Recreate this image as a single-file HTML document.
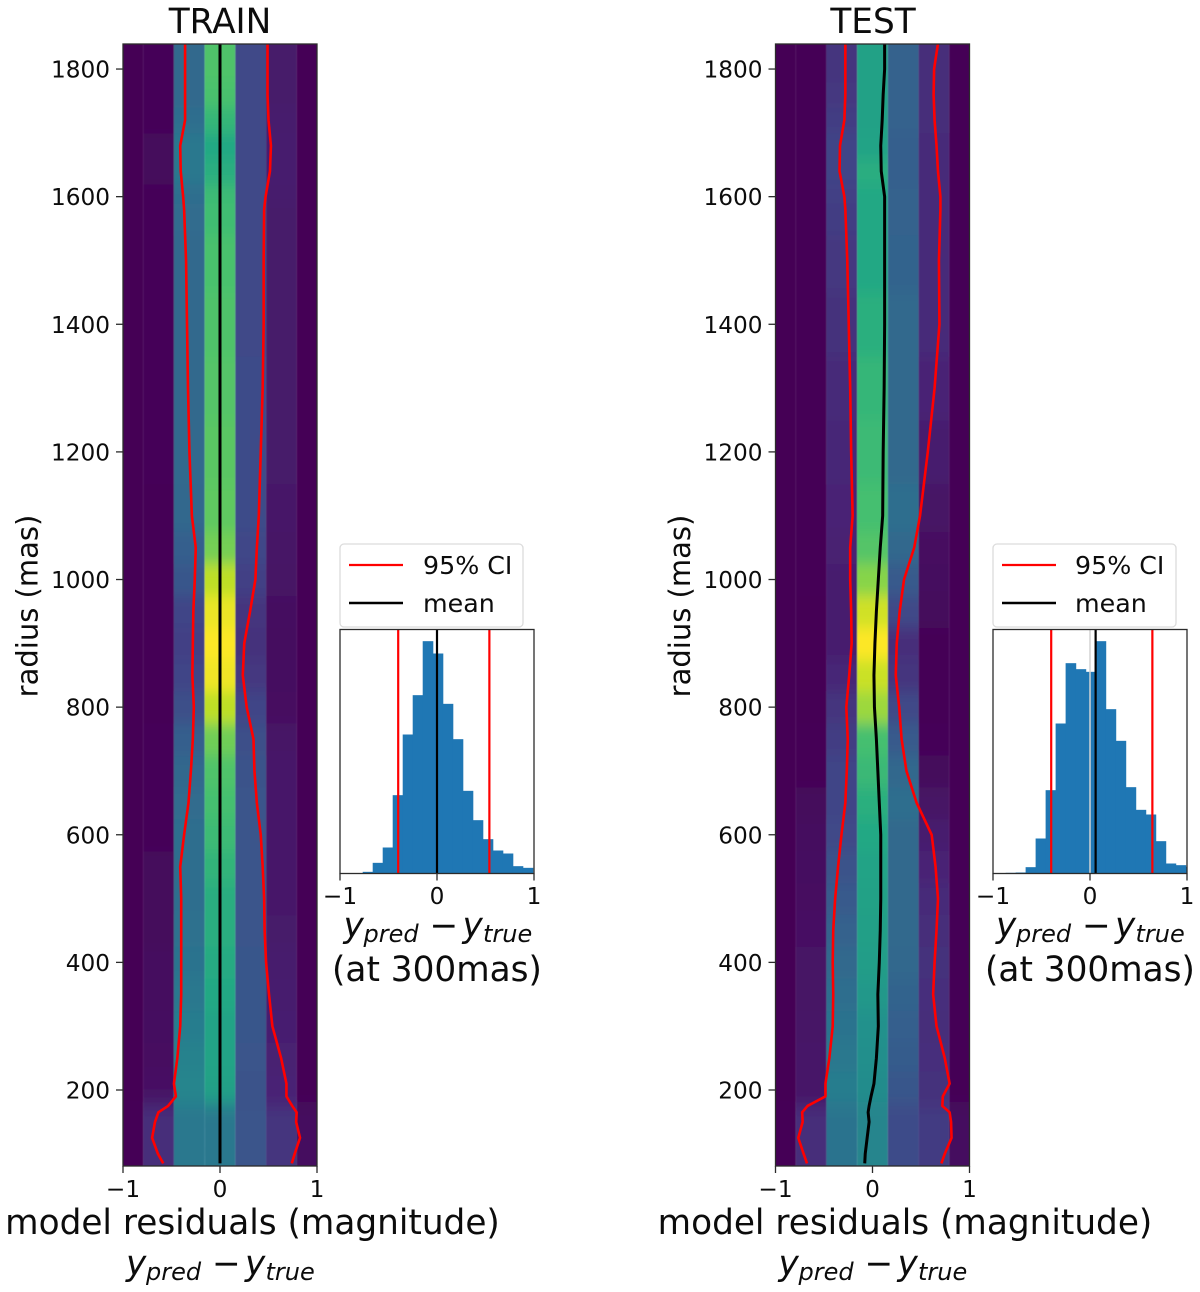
<!DOCTYPE html>
<html lang="en">
<head>
<meta charset="utf-8">
<title>Model residuals: TRAIN and TEST</title>
<style>
html,body{margin:0;padding:0;background:#fff;}
svg{display:block;}
text{font-family:"DejaVu Sans","Liberation Sans",sans-serif;fill:#0c0c0c;}
.tick{font-size:23.2px;}
.big{font-size:34.3px;}
.lab{font-size:29px;}
.leg{font-size:25.3px;}
.it{font-style:italic;}
.sub{font-style:italic;font-size:24px;}
</style>
</head>
<body>
<svg id="figure" xmlns="http://www.w3.org/2000/svg" width="1200" height="1292" viewBox="0 0 1200 1292">
  <defs>
    <filter id="heatSmooth" filterUnits="userSpaceOnUse" x="0" y="0" width="1200" height="1292">
      <feGaussianBlur stdDeviation="0.6 7"/>
    </filter>
    <clipPath id="clipTrain"><rect x="123" y="44" width="194" height="1122"/></clipPath>
    <clipPath id="clipTest"><rect x="775.5" y="44" width="194" height="1122"/></clipPath>
    <clipPath id="clipHistTrain"><rect x="340" y="629.5" width="194" height="244"/></clipPath>
    <clipPath id="clipHistTest"><rect x="993" y="629.5" width="194" height="244"/></clipPath>
  </defs>

  <g id="train-panel"></g>
  <g id="test-panel"></g>
  <g id="train-hist"></g>
  <g id="test-hist"></g>

  <text class="big" x="220" y="33" text-anchor="middle">TRAIN</text>
  <text class="big" x="873" y="33" text-anchor="middle">TEST</text>

  <text class="lab" transform="translate(37.5 606) rotate(-90)" text-anchor="middle">radius (mas)</text>
  <text class="lab" transform="translate(690 606) rotate(-90)" text-anchor="middle">radius (mas)</text>

  <text class="big" x="252.5" y="1234" text-anchor="middle">model residuals (magnitude)</text>
  <text class="big" x="905" y="1234" text-anchor="middle">model residuals (magnitude)</text>

  <g transform="translate(0 1275)">
    <text class="big"><tspan class="it" x="126">y</tspan><tspan class="sub" x="146" dy="5">pred</tspan><tspan x="212" dy="-5">−</tspan><tspan class="it" x="245">y</tspan><tspan class="sub" x="265.5" dy="5">true</tspan></text>
  </g>
  <g transform="translate(652.5 1275)">
    <text class="big"><tspan class="it" x="126">y</tspan><tspan class="sub" x="146" dy="5">pred</tspan><tspan x="212" dy="-5">−</tspan><tspan class="it" x="245">y</tspan><tspan class="sub" x="265.5" dy="5">true</tspan></text>
  </g>
  <g transform="translate(217.5 -338)">
    <text class="big" y="1275"><tspan class="it" x="126">y</tspan><tspan class="sub" x="146" dy="5">pred</tspan><tspan x="212" dy="-5">−</tspan><tspan class="it" x="245">y</tspan><tspan class="sub" x="265.5" dy="5">true</tspan></text>
  </g>
  <g transform="translate(870 -338)">
    <text class="big" y="1275"><tspan class="it" x="126">y</tspan><tspan class="sub" x="146" dy="5">pred</tspan><tspan x="212" dy="-5">−</tspan><tspan class="it" x="245">y</tspan><tspan class="sub" x="265.5" dy="5">true</tspan></text>
  </g>
  <text class="big" x="437" y="981" text-anchor="middle">(at 300mas)</text>
  <text class="big" x="1090" y="981" text-anchor="middle">(at 300mas)</text>

  <g>
    <rect x="340" y="544" width="183" height="83" rx="4" fill="#fff" stroke="#dcdcdc" stroke-width="1.3"/>
    <line x1="349" x2="403" y1="565" y2="565" stroke="#f00" stroke-width="2.2"/>
    <text class="leg" x="423" y="574">95% CI</text>
    <line x1="349" x2="403" y1="603" y2="603" stroke="#000" stroke-width="2.4"/>
    <text class="leg" x="423" y="612">mean</text>
  </g>
  <g>
    <rect x="993" y="544" width="183" height="83" rx="4" fill="#fff" stroke="#dcdcdc" stroke-width="1.3"/>
    <line x1="1002" x2="1056" y1="565" y2="565" stroke="#f00" stroke-width="2.2"/>
    <text class="leg" x="1075" y="574">95% CI</text>
    <line x1="1002" x2="1056" y1="603" y2="603" stroke="#000" stroke-width="2.4"/>
    <text class="leg" x="1075" y="612">mean</text>
  </g>
</svg>

<script>
// ---------- shared axis data ----------
const radiusTicks = [200, 400, 600, 800, 1000, 1200, 1400, 1600, 1800];
const residualTicks = [-1, 0, 1];
const radiusKnots = [85,100,125,150,165,175,190,210,250,300,350,400,450,500,550,600,650,700,750,800,850,900,950,1000,1050,1100,1200,1300,1400,1500,1580,1600,1640,1680,1720,1760,1800,1840];
const residualBinEdges = [-1.11,-0.79,-0.475,-0.158,0.158,0.475,0.79,1.11];

// ---------- TRAIN series ----------
const trainLower = [-.585,-.64,-.70,-.67,-.635,-.535,-.455,-.475,-.44,-.41,-.40,-.40,-.40,-.40,-.41,-.37,-.325,-.30,-.28,-.27,-.285,-.28,-.275,-.26,-.25,-.29,-.315,-.33,-.34,-.35,-.37,-.38,-.405,-.41,-.36,-.36,-.36,-.36];
const trainUpper = [.74,.77,.825,.785,.79,.745,.685,.685,.63,.54,.505,.475,.46,.455,.44,.42,.38,.355,.345,.275,.235,.25,.31,.365,.38,.40,.42,.44,.45,.45,.455,.47,.515,.525,.50,.49,.49,.49];
const trainMean = [0,0,0,0,0,0,0,0,0,0,0,0,0,0,0,0,0,0,0,0,0,0,0,0,0,0,0,0,0,0,0,0,0,0,0,0,0,0];

const trainCol0 = [.01,.01,.01,.01,.01,.01,0,0,0,0,0,0,0,0,0,0,0,0,0,0,0,0,0,0,0,0,0,0,0,0,0,0,0,0,0,0,0,0];
const trainCol1 = [.13,.13,.13,.13,.13,.09,.05,.045,.04,.035,.03,.03,.025,.02,.02,.015,.015,.015,.015,.01,.01,.01,.01,.01,.01,.01,.015,.015,.015,.015,.015,.015,.02,.02,.015,.015,.015,.015];
const trainCol2 = [.40,.40,.40,.40,.40,.42,.45,.45,.44,.42,.40,.38,.37,.36,.36,.36,.35,.33,.30,.24,.20,.19,.20,.27,.30,.33,.34,.34,.34,.34,.35,.36,.40,.40,.36,.34,.34,.34];
const trainCol3 = [.40,.40,.40,.40,.41,.45,.55,.57,.58,.58,.60,.61,.62,.62,.65,.68,.70,.72,.78,.90,.98,1,.97,.90,.79,.75,.74,.73,.72,.71,.69,.68,.62,.60,.66,.71,.72,.72];
const trainCol4 = [.26,.26,.26,.26,.26,.25,.25,.25,.26,.27,.27,.27,.26,.26,.26,.26,.26,.25,.24,.20,.16,.14,.15,.19,.21,.23,.23,.23,.22,.22,.22,.22,.22,.22,.22,.22,.22,.22];
const trainCol5 = [.15,.15,.15,.15,.15,.12,.10,.10,.09,.085,.08,.075,.07,.065,.065,.065,.065,.065,.055,.04,.035,.03,.035,.05,.055,.06,.07,.07,.07,.07,.07,.075,.08,.08,.075,.07,.07,.07];
const trainCol6 = [.03,.03,.03,.03,.03,.02,.01,.01,.01,.01,.01,.01,.01,.01,.01,.01,.01,.01,.01,.005,.005,.005,.005,.005,.005,.005,.005,.005,.005,.005,.005,.005,.005,.005,.005,.005,.005,.005];

// ---------- TEST series ----------
const testLower = [-.675,-.71,-.765,-.72,-.725,-.67,-.485,-.485,-.445,-.41,-.405,-.41,-.405,-.385,-.355,-.32,-.28,-.265,-.255,-.27,-.24,-.215,-.22,-.23,-.23,-.205,-.22,-.23,-.245,-.26,-.28,-.29,-.34,-.335,-.29,-.28,-.28,-.28];
const testUpper = [.71,.745,.815,.81,.795,.72,.725,.795,.745,.66,.625,.64,.66,.675,.65,.61,.455,.35,.30,.275,.24,.25,.28,.325,.43,.49,.57,.64,.69,.685,.70,.70,.675,.66,.64,.63,.635,.675];
const testMean = [-.08,-.075,-.055,-.035,-.045,-.035,-.015,.015,.04,.06,.055,.07,.08,.085,.085,.085,.07,.055,.04,.02,.015,.025,.04,.06,.08,.105,.11,.12,.125,.125,.125,.125,.09,.085,.10,.11,.125,.125];

const testCol0 = [.01,.01,.01,.01,.01,.01,0,0,0,0,0,0,0,0,0,0,0,0,0,0,0,0,0,0,0,0,0,0,0,0,0,0,0,0,0,0,0,0];
const testCol1 = [.13,.13,.13,.13,.13,.09,.06,.06,.06,.055,.05,.05,.045,.04,.035,.03,.02,.01,.01,0,0,0,0,.005,.005,.005,.01,.01,.01,.01,.01,.01,.01,.01,.01,.01,.01,.01];
const testCol2 = [.38,.38,.38,.38,.38,.40,.42,.42,.40,.38,.36,.34,.31,.28,.25,.22,.20,.20,.18,.15,.11,.08,.08,.08,.09,.10,.11,.12,.14,.16,.18,.19,.20,.20,.18,.16,.15,.15];
const testCol3 = [.45,.45,.45,.45,.45,.46,.48,.48,.49,.50,.53,.55,.56,.57,.58,.60,.63,.67,.70,.85,.92,1,.93,.82,.73,.70,.68,.66,.63,.60,.60,.60,.62,.58,.57,.57,.57,.57];
const testCol4 = [.23,.23,.23,.23,.23,.24,.27,.27,.29,.30,.32,.33,.34,.34,.34,.34,.36,.33,.28,.22,.15,.13,.22,.28,.33,.36,.34,.34,.34,.32,.31,.31,.30,.30,.31,.31,.31,.31];
const testCol5 = [.17,.17,.17,.17,.17,.15,.14,.14,.135,.13,.135,.14,.13,.12,.10,.08,.05,.02,.015,.01,.01,.01,.02,.03,.04,.05,.08,.10,.12,.12,.12,.12,.12,.12,.13,.13,.13,.13];
const testCol6 = [.03,.03,.03,.03,.03,.02,.01,.01,.01,.01,.01,.01,.01,.01,.01,.01,.01,.005,.005,.005,.005,.005,.005,.005,.005,.005,.005,.005,.005,.005,.005,.005,.005,.005,.005,.005,.005,.005];

// ---------- histogram series ----------
const trainHistStart = -0.766;
const testHistStart = -0.87;
const histBinWidth = 0.1031;
const trainHistCounts = [5,32,78,235,417,535,697,660,509,403,248,160,103,69,60,22,17];
const testHistCounts = [2,3,19,105,250,450,631,613,605,697,493,398,259,191,177,97,30,25,20];
const trainHistCI = [-0.40, 0.54];
const testHistCI = [-0.40, 0.643];
const trainHistMean = [0.0];
const testHistMean = [0.058];
const testHistZero = [0.0];

// ---------- viridis colour map ----------
const viridisStops = ['#440154','#482475','#414487','#355f8d','#2a788e','#21918c','#22a884','#44bf70','#7ad151','#bddf26','#fde725'];
function hexRgb(h){return [parseInt(h.slice(1,3),16),parseInt(h.slice(3,5),16),parseInt(h.slice(5,7),16)];}
function viridis(t){
  const p=Math.max(0,Math.min(1,t))*10, i=Math.min(9,Math.floor(p)), f=p-i;
  const a=hexRgb(viridisStops[i]), b=hexRgb(viridisStops[i+1]);
  return 'rgb('+[0,1,2].map(k=>Math.round(a[k]+(b[k]-a[k])*f)).join(',')+')';
}

// ---------- helpers ----------
const NS='http://www.w3.org/2000/svg';
function make(tag,attrs,parent,txt){
  const el=document.createElementNS(NS,tag);
  for(const k in attrs) el.setAttribute(k,attrs[k]);
  if(txt!==undefined) el.textContent=txt;
  parent.appendChild(el);
  return el;
}
const AXIS_COLOR='#2b2b2b';
const Y_TOP=44, Y_BOTTOM=1166, PANEL_W=194;
function yScale(r){return 1090-(r-200)*0.6381;}
function tickText(v){return v<0?'\u2212'+Math.abs(v):String(v);}

function drawPanel(root,x0,clipId,cols,lower,upper,mean){
  const xScale=v=>x0+(v+1)*PANEL_W/2;

  const clipG=make('g',{'clip-path':'url(#'+clipId+')'},root);
  const heat=make('g',{filter:'url(#heatSmooth)'},clipG);
  
  
  cols.forEach((col,c)=>{
    const xa=xScale(residualBinEdges[c]), xb=xScale(residualBinEdges[c+1]);
    col.forEach((val,i)=>{
      const lo=i===0?radiusKnots[0]-200:(radiusKnots[i-1]+radiusKnots[i])/2;
      const hi=i===col.length-1?radiusKnots[i]+200:(radiusKnots[i]+radiusKnots[i+1])/2;
      const cell=make('rect',{x:xa,y:yScale(hi),width:xb-xa,height:yScale(lo)-yScale(hi)+0.5,fill:viridis(val)},heat);
      
      
    });
  });

  const pts=s=>s.map((v,i)=>xScale(v).toFixed(2)+','+yScale(radiusKnots[i]).toFixed(2)).join(' ');
  const lineLow=make('polyline',{points:pts(lower),fill:'none',stroke:'#f00','stroke-width':2.6,'stroke-linejoin':'round'},clipG);
  
  
  const lineUp=make('polyline',{points:pts(upper),fill:'none',stroke:'#f00','stroke-width':2.6,'stroke-linejoin':'round'},clipG);
  
  
  const lineMean=make('polyline',{points:pts(mean),fill:'none',stroke:'#000','stroke-width':3,'stroke-linejoin':'round'},clipG);
  
  

  const frame=make('rect',{x:x0,y:Y_TOP,width:PANEL_W,height:Y_BOTTOM-Y_TOP,fill:'none',stroke:AXIS_COLOR,'stroke-width':1.3},root);
  
  

  radiusTicks.forEach(r=>{
    const y=yScale(r);
    const t=make('line',{x1:x0-7,x2:x0,y1:y,y2:y,stroke:AXIS_COLOR,'stroke-width':1.3},root);
    
    
    const l=make('text',{class:'tick',x:x0-13,y:y+8.5,'text-anchor':'end'},root,String(r));
    
    
  });
  residualTicks.forEach(v=>{
    const x=xScale(v);
    const t=make('line',{x1:x,x2:x,y1:Y_BOTTOM,y2:Y_BOTTOM+7,stroke:AXIS_COLOR,'stroke-width':1.3},root);
    
    
    const l=make('text',{class:'tick',x:x,y:1197,'text-anchor':'middle'},root,tickText(v));
    
    
  });
}

function drawHist(root,x0,clipId,start,counts,ci,meanVal,zeroVal){
  const top=629.5, bottom=873.5, countMax=732;
  const xScale=v=>x0+(v+1)*PANEL_W/2;
  const yCount=c=>bottom-c/countMax*(bottom-top);
  const clipG=make('g',{'clip-path':'url(#'+clipId+')'},root);
  counts.forEach((c,i)=>{
    const xa=xScale(start+i*histBinWidth), xb=xScale(start+(i+1)*histBinWidth);
    const bar=make('rect',{x:xa,y:yCount(c),width:xb-xa+0.6,height:bottom-yCount(c),fill:'#1f77b4'},clipG);
    
    
  });
  zeroVal.forEach(v=>{
    const z=make('line',{x1:xScale(v),x2:xScale(v),y1:top,y2:bottom,stroke:'#d3d3d3','stroke-width':2,'stroke-opacity':0.75},clipG);
    
    
  });
  ci.forEach(v=>{
    const r=make('line',{x1:xScale(v),x2:xScale(v),y1:top,y2:bottom,stroke:'#f00','stroke-width':2.2},clipG);
    
    
  });
  meanVal.forEach(v=>{
    const m=make('line',{x1:xScale(v),x2:xScale(v),y1:top,y2:bottom,stroke:'#000','stroke-width':2.2},clipG);
    
    
  });
  const frame=make('rect',{x:x0,y:top,width:PANEL_W,height:bottom-top,fill:'none',stroke:AXIS_COLOR,'stroke-width':1.3},root);
  
  
  residualTicks.forEach(v=>{
    const x=xScale(v);
    const t=make('line',{x1:x,x2:x,y1:bottom,y2:bottom+7,stroke:AXIS_COLOR,'stroke-width':1.3},root);
    
    
    const l=make('text',{class:'tick',x:x,y:904,'text-anchor':'middle'},root,tickText(v));
    
    
  });
}

drawPanel(document.getElementById('train-panel'),123,'clipTrain',
  [trainCol0,trainCol1,trainCol2,trainCol3,trainCol4,trainCol5,trainCol6],trainLower,trainUpper,trainMean);
drawPanel(document.getElementById('test-panel'),775.5,'clipTest',
  [testCol0,testCol1,testCol2,testCol3,testCol4,testCol5,testCol6],testLower,testUpper,testMean);
drawHist(document.getElementById('train-hist'),340,'clipHistTrain',trainHistStart,trainHistCounts,trainHistCI,trainHistMean,[]);
drawHist(document.getElementById('test-hist'),993,'clipHistTest',testHistStart,testHistCounts,testHistCI,testHistMean,testHistZero);
</script>
</body>
</html>
